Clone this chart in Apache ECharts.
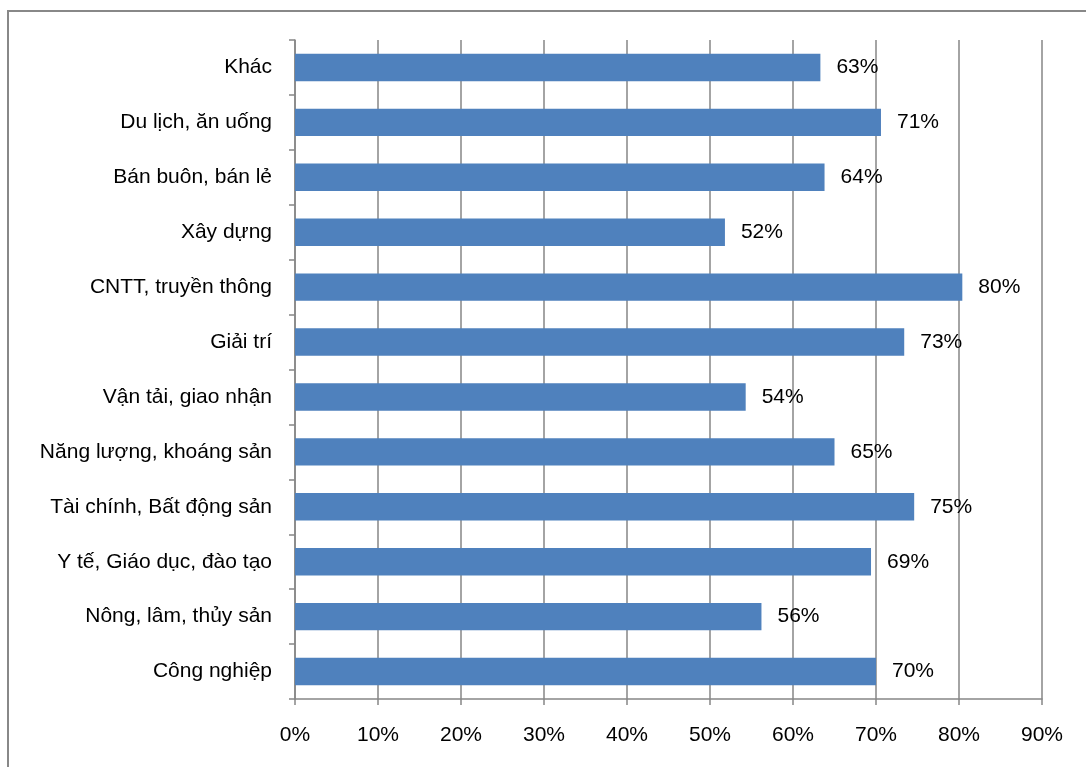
<!DOCTYPE html>
<html>
<head>
<meta charset="utf-8">
<script src="https://cdn.jsdelivr.net/npm/echarts@6/dist/echarts.min.js"></script>
<style>
html, body { margin: 0; padding: 0; background: #fff; }
#main { width: 1086px; height: 767px; }
</style>
</head>
<body>
<div id="main"></div>
<script>
// categories top to bottom
var categories = ['Khác', 'Du lịch, ăn uống', 'Bán buôn, bán lẻ', 'Xây dựng', 'CNTT, truyền thông',
    'Giải trí', 'Vận tải, giao nhận', 'Năng lượng, khoáng sản', 'Tài chính, Bất động sản',
    'Y tế, Giáo dục, đào tạo', 'Nông, lâm, thủy sản', 'Công nghiệp'];
var values = [63.3, 70.6, 63.8, 51.8, 80.4, 73.4, 54.3, 65.0, 74.6, 69.4, 56.2, 70.0];
var xTicks = [0, 10, 20, 30, 40, 50, 60, 70, 80, 90];

var myChart = echarts.init(document.getElementById('main'));
var font = 'Liberation Sans, Arial, sans-serif';
var option = {
    animation: false,
    graphic: [{
        type: 'rect',
        shape: { x: 8, y: 11, width: 1200, height: 900 },
        style: { fill: 'none', stroke: '#888', lineWidth: 2 },
        silent: true
    }],
    grid: { left: 295, right: 44, top: 40, bottom: 68 },
    xAxis: {
        type: 'value',
        min: xTicks[0],
        max: xTicks[xTicks.length - 1],
        interval: 10,
        axisLine: { show: true, lineStyle: { color: '#868686', width: 1.5 } },
        axisTick: { show: true, length: 6, lineStyle: { color: '#868686', width: 1.5 } },
        splitLine: { show: true, lineStyle: { color: '#868686', width: 1.5 } },
        axisLabel: { color: '#000', fontSize: 21, fontFamily: font, margin: 26, formatter: '{value}%' }
    },
    yAxis: {
        type: 'category',
        inverse: true,
        data: categories,
        axisLine: { show: true, lineStyle: { color: '#868686', width: 1.5 } },
        axisTick: { show: true, length: 6, lineStyle: { color: '#868686', width: 1.5 } },
        axisLabel: { color: '#000', fontSize: 21, fontFamily: font, margin: 23 }
    },
    series: [{
        type: 'bar',
        data: values,
        barWidth: '50%',
        itemStyle: { color: '#4F81BD' },
        label: {
            show: true,
            position: 'right',
            distance: 16,
            color: '#000',
            fontSize: 21,
            fontFamily: font,
            formatter: function (p) { return Math.round(p.value) + '%'; }
        }
    }]
};
myChart.setOption(option);
</script>
</body>
</html>
